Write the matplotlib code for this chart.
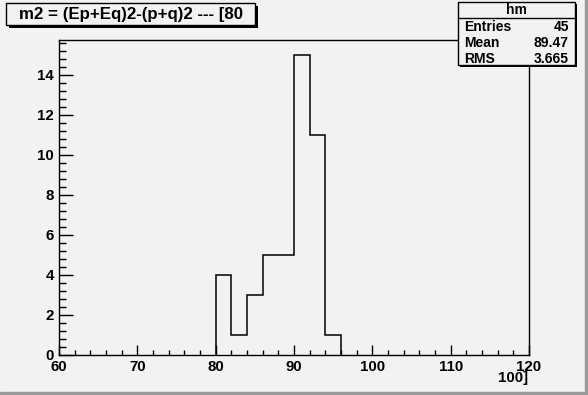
import matplotlib
matplotlib.use("Agg")
import matplotlib.pyplot as plt
from matplotlib.patches import Rectangle
from matplotlib.ticker import MultipleLocator

plt.rcParams['font.family'] = ['Liberation Sans', 'DejaVu Sans']

# data
bin_edges = [80, 82, 84, 86, 88, 90, 92, 94, 96]
counts = [4, 1, 3, 5, 5, 15, 11, 1]
title_text = "m2 = (Ep+Eq)2-(p+q)2 --- [80"
xtitle_text = "100]"
stats_name = "hm"
stats_labels = ["Entries", "Mean", "RMS"]
stats_values = ["45", "89.47", "3.665"]
x_range = (60, 120)
y_max = 15.75

bg = '#f2f2f2'
W, H = 588, 395
fig = plt.figure(figsize=(W / 100, H / 100), dpi=100, facecolor=bg)
ax = fig.add_axes([59 / W, 1 - 355 / H, 470 / W, 315 / H])
ax.set_facecolor(bg)

ax.stairs(counts, bin_edges, baseline=0, fill=False, color='black', lw=1.1)
ax.set_xlim(*x_range)
ax.set_ylim(0, y_max)

ax.xaxis.set_major_locator(MultipleLocator(10))
ax.xaxis.set_minor_locator(MultipleLocator(2))
ax.yaxis.set_major_locator(MultipleLocator(2))
ax.yaxis.set_minor_locator(MultipleLocator(0.4))
ax.tick_params(axis='both', which='both', direction='in', top=False, right=False,
               width=1, color='black')
ax.tick_params(axis='x', which='major', length=7, pad=3.5, labelsize=10.8)
ax.tick_params(axis='x', which='minor', length=3.5)
ax.tick_params(axis='y', which='major', length=10, pad=3.6, labelsize=10.8)
ax.tick_params(axis='y', which='minor', length=5)
for lab in ax.get_xticklabels() + ax.get_yticklabels():
    lab.set_fontweight('bold')
for s in ax.spines.values():
    s.set_linewidth(1)

fig.text(528 / W, 1 - 378 / H, xtitle_text, ha='right', va='center',
         fontsize=10.8, fontweight='bold')

# figure border (bevel)
fig.patches.append(Rectangle((0, 0), 1, 3 / H, transform=fig.transFigure,
                             color='#9a9a9a', zorder=0))
fig.patches.append(Rectangle((1 - 3 / W, 0), 3 / W, 1, transform=fig.transFigure,
                             color='#9a9a9a', zorder=0))

def box(x0, y0, x1, y1, sh=3):
    # shadow
    fig.patches.append(Rectangle((x0 / W + sh / W, 1 - (y1 + sh) / H), (x1 - x0) / W, (y1 - y0) / H,
                                 transform=fig.transFigure, facecolor='black',
                                 edgecolor='none', zorder=5))
    fig.patches.append(Rectangle((x0 / W, 1 - y1 / H), (x1 - x0) / W, (y1 - y0) / H,
                                 transform=fig.transFigure, facecolor=bg,
                                 edgecolor='black', lw=1, zorder=6))

# title box
box(6, 3, 255, 25)
fig.text(131 / W, 1 - 14.5 / H, title_text, ha='center', va='center',
         fontsize=12.2, fontweight='bold', zorder=7)

# stats box
box(458, 2, 575, 65, sh=2)
fig.add_artist(plt.Line2D([458 / W, 575 / W], [1 - 18 / H, 1 - 18 / H],
                          transform=fig.transFigure, color='black', lw=1, zorder=7))
fig.text(516 / W, 1 - 10.5 / H, stats_name, ha='center', va='center',
         fontsize=10, fontweight='bold', zorder=7)
for i, (l, v) in enumerate(zip(stats_labels, stats_values)):
    yy = 1 - (27 + 16 * i) / H
    fig.text(464 / W, yy, l, ha='left', va='center', fontsize=10, fontweight='bold', zorder=7)
    fig.text(569 / W, yy, v, ha='right', va='center', fontsize=10, fontweight='bold', zorder=7)

fig.savefig('out.png', dpi=100, facecolor=bg)
